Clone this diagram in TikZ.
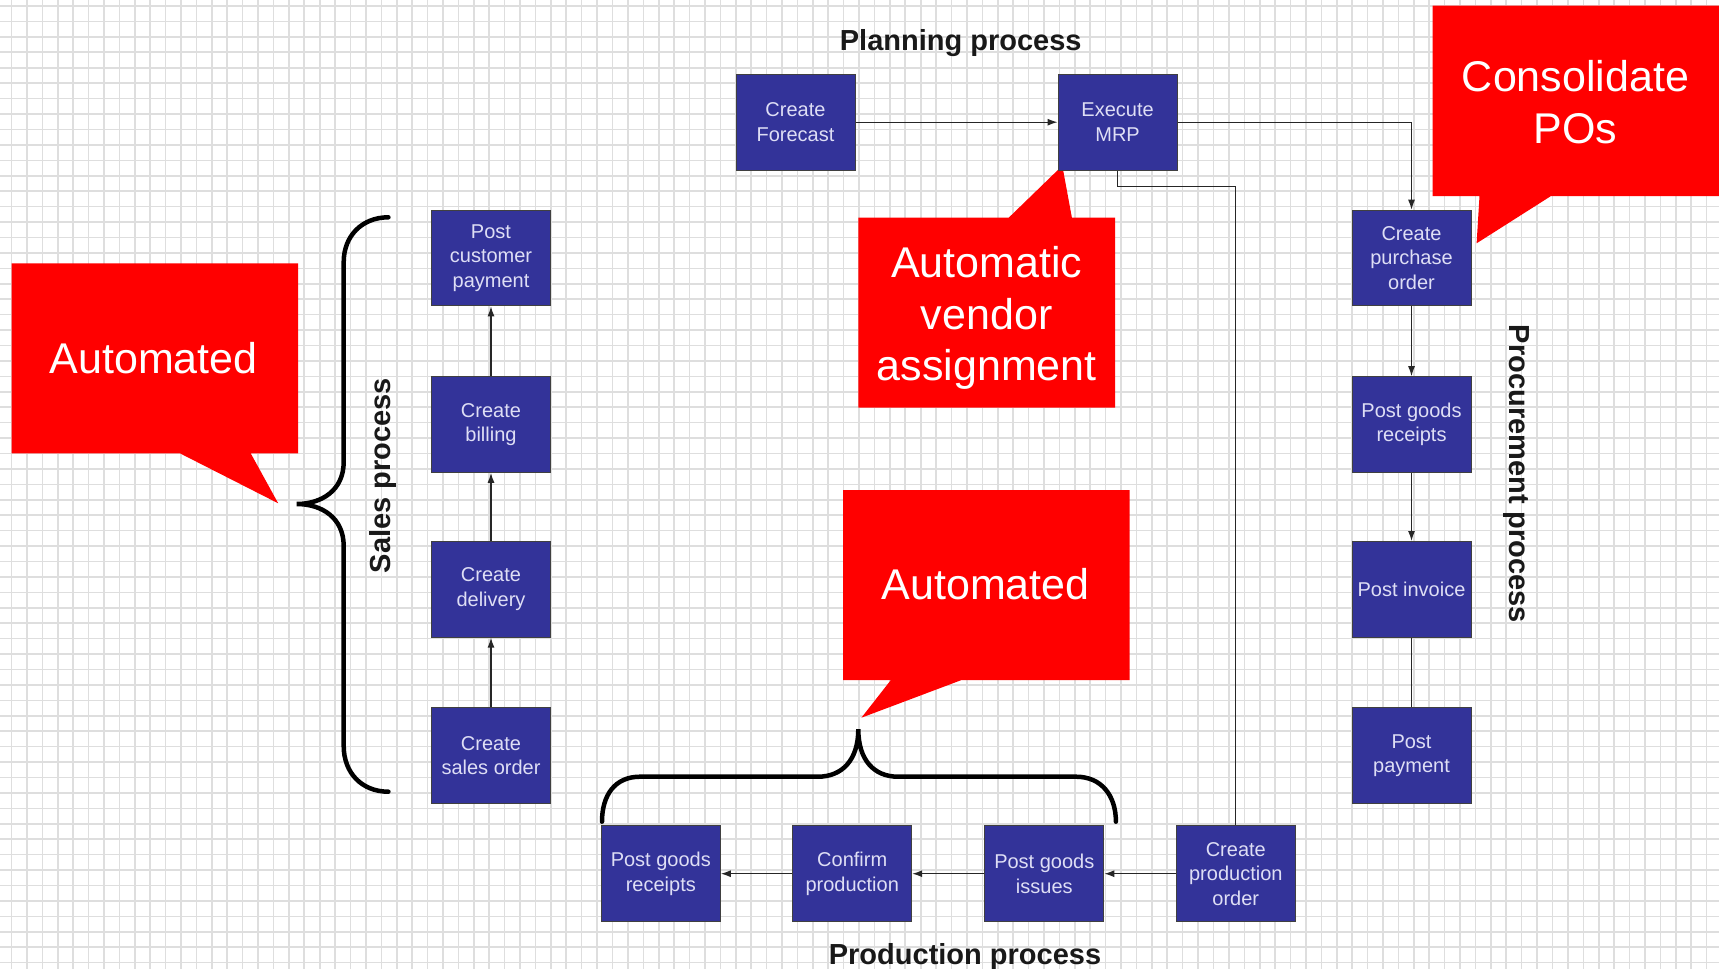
\documentclass[tikz,border=0pt]{standalone}
\usepackage{fontspec}
\setmainfont{Liberation Sans}
\usetikzlibrary{arrows.meta}
\definecolor{boxblue}{RGB}{51,51,153}
\definecolor{boxtext}{RGB}{222,222,245}
\definecolor{gridgray}{RGB}{222,222,222}
\definecolor{calloutred}{RGB}{255,0,0}
\begin{document}
\begin{tikzpicture}[x=1pt,y=-1pt,
  stepbox/.style={draw=black!75, line width=1pt, fill=boxblue, text=boxtext, minimum width=119pt, minimum height=95.6pt, inner sep=0pt, align=center, font=\fontsize{20}{24.5}\selectfont},
  flow/.style={draw=black!85, line width=1.3pt},
  flowarrow/.style={flow, -{Latex[length=10pt,width=7pt]}},
  callout/.style={fill=calloutred},
  callouttext/.style={text=white, align=center, inner sep=0pt, font=\fontsize{43}{51.5}\selectfont},
  procname/.style={font=\bfseries\fontsize{29}{34}\selectfont, text=black!90, inner sep=0pt},
  brace/.style={draw=black, line width=4.5pt, line cap=round}
]
\useasboundingbox (0,0) rectangle (1719,969);
\fill[white] (0,0) rectangle (1719,969);
\foreach \i in {0,...,110} \draw[gridgray, line width=1.6pt] ({11.5+15.41*\i},0) -- ++(0,969);
\foreach \j in {0,...,62} \draw[gridgray, line width=1.6pt] (0,{6+15.43*\j}) -- ++(1719,0);

% callouts
\fill[callout] (11.5,263.3) -- (298.1,263.3) -- (298.1,453.3) -- (250.7,453.3) -- (278.2,503.3) -- (179.9,453.3) -- (11.5,453.3) -- cycle;
\node[callouttext] (autoL) at (153.6,358) {Automated};

\fill[callout] (858.3,217.7) -- (1008.7,217.7) -- (1062.3,165.7) -- (1071.9,217.7) -- (1115.1,217.7) -- (1115.1,407.7) -- (858.3,407.7) -- cycle;
\node[callouttext] (vendor) at (986.7,318) {Automatic\\vendor\\assignment};

\fill[callout] (1432.7,5.7) -- (1719,5.7) -- (1719,196) -- (1551,196) -- (1476.6,243.3) -- (1479.5,196) -- (1432.7,196) -- cycle;
\node[callouttext] (consol) at (1575.5,102) {Consolidate\\POs};

\fill[callout] (843,490) -- (1129.7,490) -- (1129.7,680) -- (961.6,680) -- (861.4,717.7) -- (890.9,680) -- (843,680) -- cycle;
\node[callouttext] (autoC) at (985.6,584.5) {Automated};

% braces
\draw[brace] (388.4,217.3) .. controls (362,217.3) and (343.7,236) .. (343.7,262) -- (343.7,462) .. controls (343.7,490) and (322,504) .. (296.6,504) .. controls (322,504) and (343.7,518) .. (343.7,546) -- (343.7,746) .. controls (343.7,773) and (362,791.7) .. (388.4,791.7);
\draw[brace] (602,821.7) .. controls (602,795) and (615,776.7) .. (640,776.7) -- (818,776.7) .. controls (842,776.7) and (858.3,760) .. (858.3,729.3) .. controls (858.3,760) and (874,776.7) .. (898,776.7) -- (1076,776.7) .. controls (1101,776.7) and (1115.9,795) .. (1115.9,821.7);

% labels
\node[procname, anchor=base] (planlbl) at (960.7,50.7) {Planning process};
\node[procname, anchor=base] (prodlbl) at (965,964) {Production process};
\node[procname, anchor=base, rotate=90] (saleslbl) at (390,475.8) {Sales process};
\node[procname, anchor=base, rotate=-90] (proclbl) at (1509,474) {Procurement process};

% boxes
\node[stepbox] (cf) at (795.5,122.2) {Create\\Forecast};
\node[stepbox] (mrp) at (1117.6,122.2) {Execute\\MRP};
\node[stepbox] (cpo) at (1411.5,258) {Create\\purchase\\order};
\node[stepbox] (pgrproc) at (1411.5,424.5) {Post goods\\receipts};
\node[stepbox] (pinv) at (1411.5,589.3) {Post invoice};
\node[stepbox] (ppay) at (1411.5,755.5) {Post\\payment};
\node[stepbox] (cpp) at (491,258) {Post\\customer\\payment};
\node[stepbox] (cbill) at (491,424.5) {Create\\billing};
\node[stepbox] (cdel) at (491,589.3) {Create\\delivery};
\node[stepbox] (cso) at (491,755.5) {Create\\sales order};
\node[stepbox] (pgrprod) at (660.8,873.7) {Post goods\\receipts};
\node[stepbox] (conf) at (852.2,873.7) {Confirm\\production};
\node[stepbox] (pgi) at (1044.3,873.7) {Post goods\\issues};
\node[stepbox] (cpord) at (1235.8,873.7) {Create\\production\\order};

% connectors
\coordinate (mrpturn) at (1117.6,186.7);
\draw[flowarrow] (cf.east) -- (mrp.west);
\draw[flowarrow] (mrp.east) -| (cpo.north);
\draw[flow] (mrp.south) -- (mrpturn) -| (cpord.north);
\draw[flowarrow] (cpord.west) -- (pgi.east);
\draw[flowarrow] (pgi.west) -- (conf.east);
\draw[flowarrow] (conf.west) -- (pgrprod.east);
\draw[flowarrow] (cpo.south) -- (pgrproc.north);
\draw[flowarrow] (pgrproc.south) -- (pinv.north);
\draw[flow] (pinv.south) -- (ppay.north);
\draw[flowarrow] (cso.north) -- (cdel.south);
\draw[flowarrow] (cdel.north) -- (cbill.south);
\draw[flowarrow] (cbill.north) -- (cpp.south);
\end{tikzpicture}
\end{document}
